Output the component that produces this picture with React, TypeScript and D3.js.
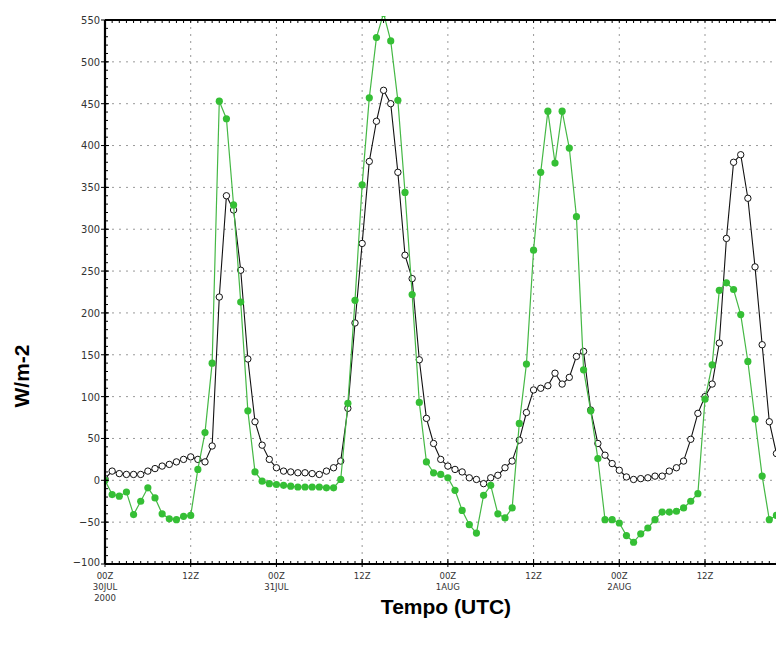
import React from "react";
import * as d3 from "d3";

// Hourly values starting 00Z 30JUL2000
const blackSeries: number[] = [
  2, 11, 8, 7, 7, 7, 11, 14, 17, 19, 22, 25, 28, 25, 22, 41, 219, 340, 323, 251,
  145, 70, 42, 25, 15, 11, 10, 9, 9, 8, 7, 11, 15, 23, 86, 188, 283, 381, 429, 466,
  450, 368, 269, 241, 144, 74, 44, 25, 17, 13, 10, 3, 1, -4, 3, 6, 15, 23, 48, 81,
  108, 110, 113, 128, 115, 123, 148, 154, 84, 44, 30, 20, 12, 4, 1, 2, 3, 5, 5, 11,
  15, 23, 49, 80, 100, 115, 164, 289, 380, 389, 337, 255, 162, 70, 32,
];

const greenSeries: number[] = [
  0, -17, -19, -14, -41, -25, -9, -21, -40, -46, -47, -43, -42, 13, 57, 140, 453, 432, 329, 213,
  83, 10, -1, -4, -5, -6, -7, -8, -8, -8, -8, -9, -9, 1, 92, 215, 353, 457, 529, 558,
  525, 454, 344, 222, 93, 22, 9, 7, 3, -12, -36, -53, -63, -18, -6, -40, -45, -33, 68, 139,
  275, 368, 441, 379, 441, 397, 315, 132, 83, 26, -47, -47, -51, -66, -74, -64, -57, -47, -38, -38,
  -37, -33, -25, -16, 97, 138, 227, 236, 228, 198, 142, 73, 5, -47, -42,
];

const yTicks: number[] = [-100, -50, 0, 50, 100, 150, 200, 250, 300, 350, 400, 450, 500, 550];
const xTickHours: number[] = [0, 12, 24, 36, 48, 60, 72, 84];
const xTickLabels: string[][] = [
  ["00Z", "30JUL", "2000"],
  ["12Z"],
  ["00Z", "31JUL"],
  ["12Z"],
  ["00Z", "1AUG"],
  ["12Z"],
  ["00Z", "2AUG"],
  ["12Z"],
];

const yLabel = "W/m-2";
const xLabel = "Tempo (UTC)";

export default function App() {
  const W = 776;
  const H = 646;
  const left = 105;
  const top = 20;
  const bottom = 564;
  const hoursSpan = 96;
  const right = left + hoursSpan * 7.143;

  const x = d3.scaleLinear().domain([0, hoursSpan]).range([left, right]);
  const y = d3.scaleLinear().domain([-100, 550]).range([bottom, top]);

  const line = d3
    .line<number>()
    .x((_, i) => x(i))
    .y((d) => y(d));

  const minorY = d3.range(-100, 551, 10);
  const minorX = d3.range(0, hoursSpan + 1, 1);

  const tickFont = "'DejaVu Sans Condensed', 'DejaVu Sans', sans-serif";

  return (
    <svg
      width={W}
      height={H}
      style={{ position: "absolute", left: 0, top: 0, background: "#fff" }}
    >
      <defs>
        <clipPath id="plotClip">
          <rect x={left} y={16} width={right - left} height={bottom - 16} />
        </clipPath>
      </defs>
      <rect x={0} y={0} width={W} height={H} fill="#fff" />

      {/* grid */}
      {yTicks
        .filter((t) => t !== -100 && t !== 550)
        .map((t) => (
          <line
            key={"gy" + t}
            x1={left}
            x2={right}
            y1={y(t)}
            y2={y(t)}
            stroke="#999"
            strokeWidth={1}
            strokeDasharray="2,5"
          />
        ))}
      {xTickHours
        .filter((h) => h !== 0)
        .map((h) => (
          <line
            key={"gx" + h}
            x1={x(h)}
            x2={x(h)}
            y1={top}
            y2={bottom}
            stroke="#999"
            strokeWidth={1}
            strokeDasharray="2,5"
          />
        ))}

      {/* series */}
      <g clipPath="url(#plotClip)">
        <path d={line(blackSeries) || ""} fill="none" stroke="#111" strokeWidth={1.1} />
        {blackSeries.map((v, i) => (
          <circle key={"b" + i} cx={x(i)} cy={y(v)} r={3.2} fill="#fff" stroke="#111" strokeWidth={1} />
        ))}
        <path d={line(greenSeries) || ""} fill="none" stroke="#45b845" strokeWidth={1.2} />
        {greenSeries.map((v, i) => (
          <circle key={"g" + i} cx={x(i)} cy={y(v)} r={3.6} fill="#35bf35" />
        ))}
      </g>

      {/* frame */}
      <line x1={left} x2={left} y1={top} y2={bottom} stroke="#000" strokeWidth={2.2} />
      <line x1={left} x2={right} y1={top} y2={top} stroke="#000" strokeWidth={2.2} />
      <line x1={left} x2={right} y1={bottom} y2={bottom} stroke="#000" strokeWidth={2.2} />

      {/* minor ticks */}
      {minorY.map((t) => (
        <line key={"my" + t} x1={left} x2={left + 3} y1={y(t)} y2={y(t)} stroke="#000" strokeWidth={1} />
      ))}
      {minorX.map((h) => (
        <line key={"mx" + h} x1={x(h)} x2={x(h)} y1={bottom} y2={bottom - 3} stroke="#000" strokeWidth={1} />
      ))}
      {minorX.map((h) => (
        <line key={"mt" + h} x1={x(h)} x2={x(h)} y1={top} y2={top + 3} stroke="#000" strokeWidth={1} />
      ))}

      {/* y ticks and labels */}
      {yTicks.map((t) => (
        <g key={"yt" + t}>
          <line x1={left - 4} x2={left + 4} y1={y(t)} y2={y(t)} stroke="#000" strokeWidth={1} />
          <text
            x={left - 5}
            y={y(t)}
            dy={t === -100 ? "0.2em" : "0.36em"}
            textAnchor="end"
            fontFamily={tickFont}
            fontSize={11}
            fill="#333"
          >
            {t < 0 ? "\u2212" + Math.abs(t) : String(t)}
          </text>
        </g>
      ))}

      {/* x ticks and labels */}
      {xTickHours.map((h, i) => (
        <g key={"xt" + h}>
          <line x1={x(h)} x2={x(h)} y1={bottom - 5} y2={bottom + 3} stroke="#000" strokeWidth={1} />
          {xTickLabels[i].map((s, j) => (
            <text
              key={j}
              x={x(h)}
              y={bottom + 14.5 + j * 11.2}
              textAnchor="middle"
              fontFamily={tickFont}
              fontSize={9.5}
              fill="#333"
            >
              {s}
            </text>
          ))}
        </g>
      ))}

      {/* axis titles */}
      <text
        x={446}
        y={614}
        textAnchor="middle"
        fontFamily="'Liberation Sans', Arial, sans-serif"
        fontWeight="bold"
        fontSize={21}
        fill="#000"
      >
        {xLabel}
      </text>
      <text
        transform={`translate(29,376) rotate(-90)`}
        textAnchor="middle"
        fontFamily="'Liberation Sans', Arial, sans-serif"
        fontWeight="bold"
        fontSize={21}
        fill="#000"
      >
        {yLabel}
      </text>
    </svg>
  );
}
